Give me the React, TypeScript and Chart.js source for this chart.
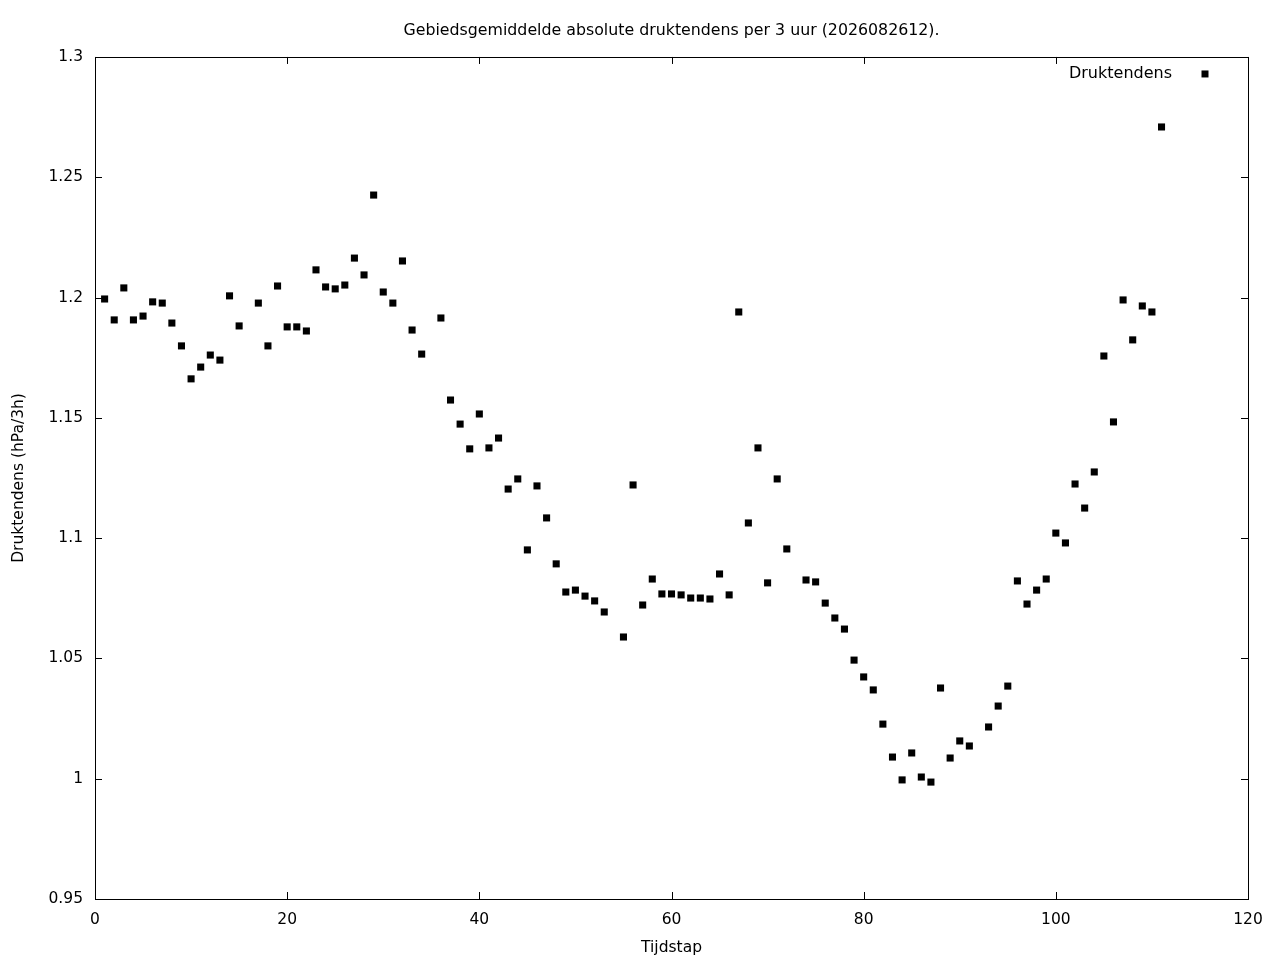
import React, { useEffect, useRef } from "react";
import { Chart, registerables } from "chart.js";

Chart.register(...registerables);

const chartTitle = "Gebiedsgemiddelde absolute druktendens per 3 uur (2026082612).";
const xTitle = "Tijdstap";
const yTitle = "Druktendens (hPa/3h)";
const seriesLabel = "Druktendens";

const tijdstap = [
  1, 2, 3, 4, 5, 6, 7, 8, 9, 10, 11, 12, 13, 14, 15,
  17, 18, 19, 20, 21, 22, 23, 24, 25, 26, 27, 28, 29, 30, 31, 32, 33, 34,
  36, 37, 38, 39, 40, 41, 42, 43, 44, 45, 46, 47, 48, 49, 50, 51, 52, 53,
  55, 56, 57, 58, 59, 60, 61, 62, 63, 64, 65, 66, 67, 68, 69, 70, 71, 72,
  74, 75, 76, 77, 78, 79, 80, 81, 82, 83, 84, 85, 86, 87, 88, 89, 90, 91,
  93, 94, 95, 96, 97, 98, 99, 100, 101, 102, 103, 104, 105, 106, 107, 108, 109, 110, 111,
];

const druktendens = [
  1.1994, 1.1907, 1.204, 1.1907, 1.1923, 1.1982, 1.1977, 1.1894, 1.1799, 1.1662, 1.1711, 1.1761, 1.174, 1.2007, 1.1882,
  1.1977, 1.1799, 1.2048, 1.1878, 1.1878, 1.1861, 1.2115, 1.2044, 1.2036, 1.2052, 1.2164, 1.2094, 1.2426, 1.2023, 1.1977, 1.2152, 1.1865, 1.1765,
  1.1915, 1.1574, 1.1474, 1.1371, 1.1516, 1.1375, 1.1416, 1.1204, 1.1246, 1.0951, 1.1217, 1.1084, 1.0893, 1.0776, 1.0784, 1.0759, 1.0739, 1.0693,
  1.0589, 1.1221, 1.0722, 1.083, 1.0768, 1.0768, 1.0764, 1.0751, 1.0751, 1.0747, 1.0851, 1.0764, 1.194, 1.1063, 1.1375, 1.0814, 1.1246, 1.0955,
  1.0826, 1.0818, 1.073, 1.0668, 1.0622, 1.0493, 1.0423, 1.0369, 1.0227, 1.009, 0.9995, 1.0107, 1.0007, 0.9986, 1.0377, 1.0086, 1.0157, 1.0136,
  1.0215, 1.0302, 1.0385, 1.0822, 1.0726, 1.0784, 1.083, 1.1021, 1.098, 1.1225, 1.1125, 1.1275, 1.1757, 1.1483, 1.199, 1.1824, 1.1965, 1.194, 1.2709,
];

const xTicks = [0, 20, 40, 60, 80, 100, 120];
const yTicks = [0.95, 1.0, 1.05, 1.1, 1.15, 1.2, 1.25, 1.3];

const FONT = "'DejaVu Sans', sans-serif";

const frameAndTicks = {
  id: "frameAndTicks",
  afterDatasetsDraw(chart: any) {
    const { ctx, chartArea } = chart;
    const { left, right, top, bottom } = chartArea;
    const xs = chart.scales.x;
    const ys = chart.scales.y;
    const tl = 7;
    ctx.save();
    ctx.strokeStyle = "#000";
    ctx.lineWidth = 1;
    ctx.beginPath();
    for (const v of xTicks) {
      const px = Math.round(xs.getPixelForValue(v)) + 0.5;
      ctx.moveTo(px, bottom);
      ctx.lineTo(px, bottom - tl);
      ctx.moveTo(px, top);
      ctx.lineTo(px, top + tl);
    }
    for (const v of yTicks) {
      const py = Math.round(ys.getPixelForValue(v)) + 0.5;
      ctx.moveTo(left, py);
      ctx.lineTo(left + tl, py);
      ctx.moveTo(right, py);
      ctx.lineTo(right - tl, py);
    }
    ctx.stroke();
    ctx.strokeRect(Math.round(left) + 0.5, Math.round(top) + 0.5, Math.round(right - left), Math.round(bottom - top));

    // legend (gnuplot style: text, then sample)
    const label = chart.data.datasets[0].label;
    ctx.font = `16px ${FONT}`;
    ctx.fillStyle = "#000";
    ctx.textAlign = "right";
    ctx.textBaseline = "middle";
    const ly = top + 17;
    ctx.fillText(label, right - 76, ly);
    ctx.fillRect(right - 46.5, ly - 3.5, 7, 7);
    ctx.restore();
  },
};

export default function App() {
  const ref = useRef<HTMLCanvasElement | null>(null);

  useEffect(() => {
    if (!ref.current) return;
    Chart.defaults.color = "#000";
    Chart.defaults.font.family = FONT;
    Chart.defaults.font.size = 16;

    const points = tijdstap.map((x, i) => ({ x, y: druktendens[i] }));

    const chart = new Chart(ref.current, {
      type: "scatter",
      data: {
        datasets: [
          {
            label: seriesLabel,
            data: points,
            pointStyle: "rect",
            pointRadius: 5,
            pointHoverRadius: 5,
            backgroundColor: "#000",
            borderColor: "#000",
            borderWidth: 0,
          },
        ],
      },
      options: {
        animation: false,
        responsive: false,
        devicePixelRatio: 1,
        events: [],
        layout: { padding: { left: 0, right: 32, top: 0, bottom: 0 } },
        plugins: {
          legend: { display: false },
          tooltip: { enabled: false },
          title: {
            display: true,
            fullSize: false,
            text: chartTitle,
            color: "#000",
            font: { family: FONT, size: 15.8, weight: "normal", lineHeight: 1.2 },
            padding: { top: 21.5, bottom: 16.5 },
          },
        },
        scales: {
          x: {
            type: "linear",
            min: 0,
            max: 120,
            afterBuildTicks: (s: any) => {
              s.ticks = xTicks.map((v) => ({ value: v }));
            },
            afterFit: (s: any) => {
              s.height = 61;
            },
            grid: { display: false, drawTicks: false },
            border: { display: false },
            ticks: {
              padding: 12,
              color: "#000",
              maxRotation: 0,
              autoSkip: false,
              font: { size: 15.5, lineHeight: 1.2 },
              callback: (v: any) => String(v),
            },
            title: {
              display: true,
              text: xTitle,
              color: "#000",
              padding: { top: 0, bottom: 3 },
              font: { size: 15.5, lineHeight: 1.2 },
            },
          },
          y: {
            type: "linear",
            min: 0.95,
            max: 1.3,
            afterBuildTicks: (s: any) => {
              s.ticks = yTicks.map((v) => ({ value: v }));
            },
            afterFit: (s: any) => {
              s.width = 95;
            },
            grid: { display: false, drawTicks: false },
            border: { display: false },
            ticks: {
              padding: 12,
              color: "#000",
              autoSkip: false,
              font: { size: 15.5, lineHeight: 1.2 },
              callback: (v: any) => String(Number(Number(v).toFixed(2))),
            },
            title: {
              display: true,
              text: yTitle,
              color: "#000",
              padding: { top: 9.5, bottom: 0 },
              font: { size: 15.5, lineHeight: 1.2 },
            },
          },
        },
      },
      plugins: [frameAndTicks],
    });
    return () => chart.destroy();
  }, []);

  return (
    <div style={{ position: "fixed", left: 0, top: 0, width: 1280, height: 960, background: "#fff" }}>
      <canvas ref={ref} width={1280} height={960} style={{ display: "block" }} />
    </div>
  );
}
